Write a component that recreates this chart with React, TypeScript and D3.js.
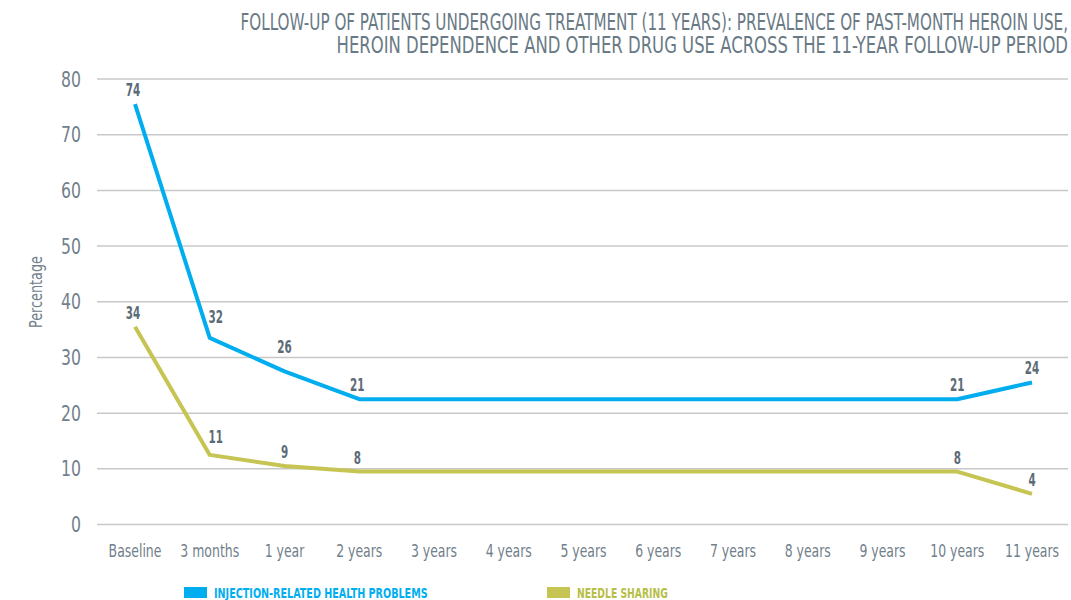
import React, { useLayoutEffect, useRef, useState } from "react";
import * as d3 from "d3";

const categories = ["Baseline", "3 months", "1 year", "2 years", "3 years", "4 years", "5 years", "6 years", "7 years", "8 years", "9 years", "10 years", "11 years"];
const injectionProblems = [74, 32, 26, 21, 21, 21, 21, 21, 21, 21, 21, 21, 24];
const needleSharing = [34, 11, 9, 8, 8, 8, 8, 8, 8, 8, 8, 8, 4];
const labelledIdx = [0, 1, 2, 3, 11, 12];
const yTicks = [0, 10, 20, 30, 40, 50, 60, 70, 80];
const titleLines = [
  "FOLLOW-UP OF PATIENTS UNDERGOING TREATMENT (11 YEARS): PREVALENCE OF PAST-MONTH HEROIN USE,",
  "HEROIN DEPENDENCE AND OTHER DRUG USE ACROSS THE 11-YEAR FOLLOW-UP PERIOD",
];

const W = 1071, H = 600;
const FONT = "'DejaVu Sans Condensed', 'DejaVu Sans', sans-serif";
const BLUE = "#00AEEF";
const OLIVE = "#C6C452";
const OLIVE_TXT = "#B7BE47";
const GRID = "#C8C8C8";
const AXIS_TXT = "#71808B";
const LABEL_TXT = "#5C6B76";
const LINE_SHIFT = 1.5;

const liftBlue: Record<number, number> = { 1: 7, 2: 10 };
const liftOlive: Record<number, number> = { 1: 4 };
const dxAt: Record<number, number> = { 1: 6, 0: -2, 3: -2 };

type TProps = {
  x: number;
  y: number;
  sx?: number;
  width?: number;
  anchor?: string;
  size: number;
  fill: string;
  bold?: boolean;
  rotate?: number;
  children: React.ReactNode;
};

function NText({ x, y, sx = 1, width, anchor = "start", size, fill, bold, rotate = 0, children }: TProps) {
  const ref = useRef<SVGTextElement>(null);
  const [s, setS] = useState(sx);
  useLayoutEffect(() => {
    if (width && ref.current) {
      const l = ref.current.getComputedTextLength();
      if (l > 0) setS(width / l);
    }
  }, [width]);
  return (
    <text
      ref={ref}
      transform={`translate(${x},${y}) rotate(${rotate}) scale(${s},1)`}
      textAnchor={anchor}
      fontSize={size}
      fontWeight={bold ? "bold" : "normal"}
      fill={fill}
    >
      {children}
    </text>
  );
}

export default function App() {
  const x = d3.scalePoint<string>().domain(categories).range([135, 1032]);
  const y = d3.scaleLinear().domain([0, 80]).range([524.5, 79]);
  const yLine = d3.scaleLinear().domain([-LINE_SHIFT, 80 - LINE_SHIFT]).range([524.5, 79]);
  const line = d3
    .line<number>()
    .x((_, i) => x(categories[i]) as number)
    .y((d) => yLine(d));

  const series = [
    { name: "INJECTION-RELATED HEALTH PROBLEMS", values: injectionProblems, color: BLUE, txt: BLUE, lift: liftBlue },
    { name: "NEEDLE SHARING", values: needleSharing, color: OLIVE, txt: OLIVE_TXT, lift: liftOlive },
  ];

  return (
    <div style={{ position: "absolute", left: 0, top: 0 }}>
      <svg width={W} height={H} style={{ display: "block", fontFamily: FONT }}>
        <rect width={W} height={H} fill="#fff" />
        {titleLines.map((t, i) => (
          <NText key={i} x={1068} y={30 + i * 22.5} anchor="end" size={23} fill="#697A85" width={i === 0 ? 828 : 732}>
            {t}
          </NText>
        ))}
        {yTicks.map((t) => (
          <g key={t}>
            <line x1={97} x2={1068} y1={y(t)} y2={y(t)} stroke={GRID} strokeWidth={1.5} />
            <NText x={81} y={y(t) + 7.5} anchor="end" size={21} sx={0.83} fill={AXIS_TXT}>
              {t}
            </NText>
          </g>
        ))}
        <NText x={42} y={292} rotate={-90} anchor="middle" size={17} width={72} fill={AXIS_TXT}>
          Percentage
        </NText>
        {categories.map((c) => (
          <NText key={c} x={x(c) as number} y={557} anchor="middle" size={18} sx={0.77} fill={AXIS_TXT}>
            {c}
          </NText>
        ))}
        {series.map((s) => (
          <path key={s.name} d={line(s.values) || ""} fill="none" stroke={s.color} strokeWidth={4} strokeLinejoin="round" />
        ))}
        {series.map((s) =>
          labelledIdx.map((i) => (
            <NText
              key={s.name + i}
              x={(x(categories[i]) as number) + (dxAt[i] || 0)}
              y={yLine(s.values[i]) - 8 - (s.lift[i] || 0)}
              anchor="middle"
              size={17}
              sx={0.68}
              bold
              fill={LABEL_TXT}
            >
              {s.values[i]}
            </NText>
          ))
        )}
        <rect x={184} y={587} width={23} height={11} fill={BLUE} />
        <NText x={214} y={598} size={14} bold fill={BLUE} width={214}>
          {series[0].name}
        </NText>
        <rect x={547} y={587} width={23} height={11} fill={OLIVE} />
        <NText x={577} y={598} size={14} bold fill={OLIVE_TXT} width={91}>
          {series[1].name}
        </NText>
      </svg>
    </div>
  );
}
